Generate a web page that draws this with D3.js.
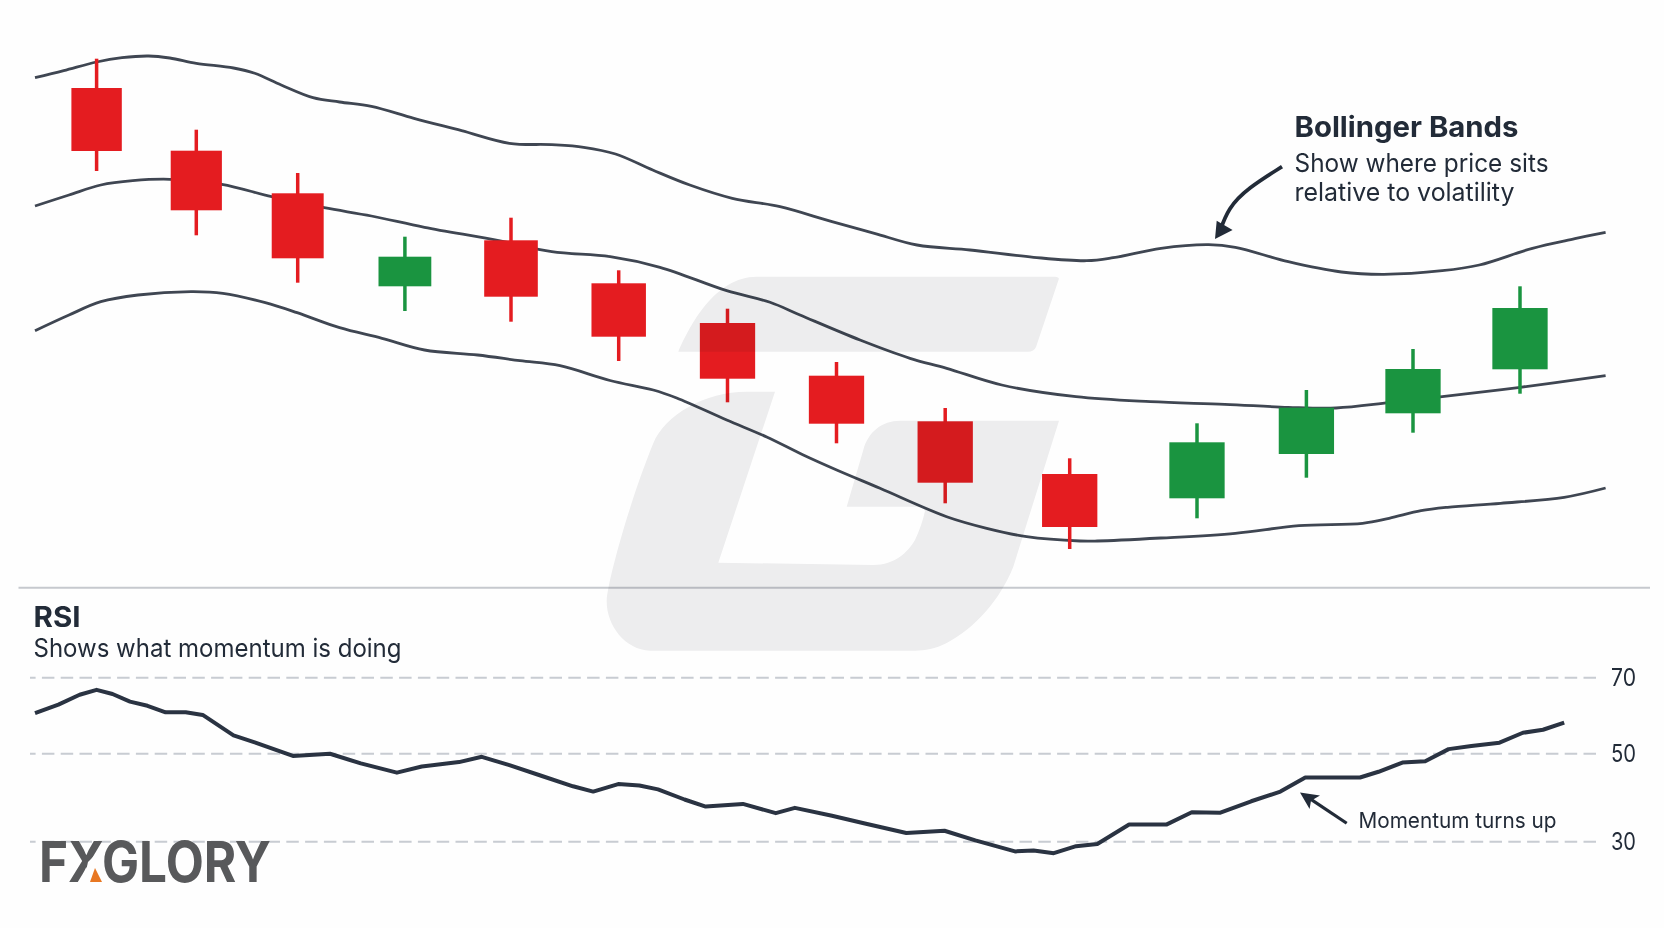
<!DOCTYPE html>
<html><head><meta charset="utf-8">
<script src="https://cdnjs.cloudflare.com/ajax/libs/d3/7.9.0/d3.min.js"></script>
<style>html,body{margin:0;padding:0;background:#fefefe}svg{display:block}text{font-family:Inter,"Noto Sans",sans-serif}</style>
</head><body><div id="chart"></div>
<script>
// time is a chart-wide session clock, price an arbitrary price unit
const candleTime=[96.6,196.3,297.7,404.9,511,618.7,727.5,836.5,945.2,1069.7,1197,1306.4,1413,1520];
const candleOpen=[512,449.3,406.7,313.7,359.7,316.7,277,224.3,178.7,126,101.7,146,186.7,230.7];
const candleClose=[449,389.7,341.7,343.3,303.3,263.3,221.3,176.3,117.3,73,157.7,192.3,231,292];
const candleHigh=[541.3,470.3,427,363.3,382.3,329.7,291.3,238,192,141.7,176.7,210,251,313.7];
const candleLow=[429,364.7,317.3,289,278.3,239,197.7,156.7,96.7,51,81.7,122.3,167.3,206.3];

const upperTime=[35,63.7,96.6,122,148.6,169.8,196.3,233.5,254.7,281.2,313,339.6,371.4,413.9,461.6,509.4,551.8,583.7,615.5,652.7,689.8,732.3,780,832,874.4,917,970,1033.6,1086.7,1113.2,1161,1208.7,1235.3,1288.3,1341.4,1383.8,1442.2,1479.3,1532.4,1574.9,1605.6];
const upperBand=[522.3,529.3,538,542.3,544,542,536.7,532,526.7,515,502.3,498,493.7,481.7,469.3,456.7,455.3,452.7,446,430,415,401.7,393.3,378.3,366.7,355,350,342.7,339.3,342.3,351.7,355.3,352.7,338.3,328,325.7,329.3,335,351.7,361.3,367.7];
const middleTime=[35,69,100.8,132.7,169.8,221.8,271.7,324.2,371.4,424.5,498.8,551.8,610.2,660,726.7,770,800,860,910,946.7,1001.8,1076,1150.4,1224.7,1288.3,1336,1389,1442.2,1520.2,1605.6];
const middleBand=[394,405,415,419.3,420.7,415.7,403.3,392.3,384,372.7,359.3,348.3,343.3,332.7,309.3,297.7,285,260,241.7,231.7,215,203.3,198.3,195.7,192.7,192,197.3,203.3,212.7,224.3];
const lowerTime=[35,69,100.8,138,191,222.9,265.3,297.1,339.6,382,424.5,477.6,520,560,610,653.3,676.7,726.7,766.7,803.3,836.7,880,946.7,986.7,1026.7,1080,1097.3,1161,1235.3,1299,1362.6,1389.1,1421,1447.5,1500.6,1564.2,1605.6];
const lowerBand=[269.3,285,298.3,305,308.3,306.7,297.3,287.3,272.3,261.7,250,245,239.3,234.3,219.5,210,202,180,163,145,130,111.7,83.3,71.7,63.3,59,59,62,66.7,74.3,76.7,81.7,89.3,92.7,96.7,102.7,112];

const rsiTime=[35,58.4,79.6,96.6,112.5,130,147.5,165.6,185.7,202.7,233.5,254.7,275.9,292.9,330,360.8,396.9,421.8,459,481.8,509.4,541.2,573,593.2,618.2,639.4,658,684.5,705.7,742.9,775.8,794.9,832,863.8,906.3,944.5,975.3,1015,1033.6,1053.8,1076.1,1097.3,1129.1,1166.3,1191.8,1220.4,1251.2,1280.4,1305.3,1360,1378.5,1402.4,1425.2,1448.6,1471.4,1499.5,1522.9,1543,1564.2];
const rsiValue=[60.6,62.8,65.4,66.7,65.6,63.6,62.5,60.8,60.8,60.1,54.7,52.9,50.9,49.4,49.9,47.7,45.6,47,48,49.2,47.3,44.9,42.5,41.3,43,42.7,41.8,39.5,37.9,38.5,36.4,37.6,35.8,34.1,31.9,32.4,30.2,27.7,27.9,27.3,28.9,29.4,33.8,33.8,36.6,36.5,39.1,41.3,44.5,44.5,45.8,47.9,48.2,51.1,51.9,52.8,55.4,56.2,58.1];
const rsiTicks=[70,50,30];

const W=1664,H=928,BG="#fefefe",INK="#222b38",LINE="#3f4652",RED="#e41c20",GREEN="#1a9440";
const svg=d3.select("#chart").append("svg").attr("width",W).attr("height",H).attr("viewBox",[0,0,W,H]);
svg.append("rect").attr("width",W).attr("height",H).attr("fill",BG);

const x=d3.scaleLinear().domain([0,1664]).range([0,1664]);
const y=d3.scaleLinear().domain([0,600]).range([600,0]);
const yRsi=d3.scaleLinear().domain([30,50,70]).range([841.3,753.3,677.3]);
const bodyW=d3.scaleLinear().domain([96.6,727.5]).range([50.4,55.3]).clamp(true);

// bands
const band=d3.line().x(d=>x(d[0])).y(d=>y(d[1])).curve(d3.curveCatmullRom.alpha(.5));
[[upperTime,upperBand],[middleTime,middleBand],[lowerTime,lowerBand]].forEach(([t,v])=>{
  svg.append("path").attr("d",band(d3.zip(t,v))).attr("fill","none").attr("stroke",LINE).attr("stroke-width",2.8);
});

// candles
const candles=d3.range(candleTime.length).map(i=>({t:candleTime[i],o:candleOpen[i],c:candleClose[i],h:candleHigh[i],l:candleLow[i]}));
const cg=svg.append("g").selectAll("g").data(candles).join("g").attr("fill",d=>d.c<d.o?RED:GREEN).attr("stroke",d=>d.c<d.o?RED:GREEN);
cg.append("line").attr("x1",d=>x(d.t)).attr("x2",d=>x(d.t)).attr("y1",d=>y(d.h)).attr("y2",d=>y(d.l)).attr("stroke-width",3.5);
cg.append("rect").attr("stroke","none").attr("x",d=>x(d.t)-bodyW(d.t)/2).attr("width",d=>bodyW(d.t))
  .attr("y",d=>y(Math.max(d.o,d.c))).attr("height",d=>y(Math.min(d.o,d.c))-y(Math.max(d.o,d.c)));

// divider
svg.append("line").attr("x1",18.5).attr("x2",1650).attr("y1",587.7).attr("y2",587.7).attr("stroke","#c6c9ce").attr("stroke-width",2);

// RSI guides + labels
const axis=d3.axisRight(yRsi).tickValues(rsiTicks).tickSizeInner(-1566).tickSizeOuter(0).tickPadding(15);
const ag=svg.append("g").attr("transform","translate(1596,0)").call(axis);
ag.select(".domain").remove();
ag.selectAll("line").attr("stroke","#c8ccd2").attr("stroke-width",2).attr("stroke-dasharray","12.5 6.3");
ag.selectAll("text").attr("fill",INK).attr("dy","0.34em").style("font-size","24px").style("font-family","Inter,'Noto Sans',sans-serif").attr("textLength",25).attr("lengthAdjust","spacingAndGlyphs");

// RSI line
const rsiLine=d3.line().x(d=>x(d[0])).y(d=>yRsi(d[1]));
svg.append("path").attr("d",rsiLine(d3.zip(rsiTime,rsiValue))).attr("fill","none").attr("stroke","#2a3342").attr("stroke-width",4).attr("stroke-linejoin","round");

// texts
function label(s,px,py,size,weight,len){
  svg.append("text").text(s).attr("x",px).attr("y",py).attr("fill",INK).style("font-size",size+"px").style("font-weight",weight)
    .attr("textLength",len).attr("lengthAdjust","spacingAndGlyphs");
}
label("Bollinger Bands",1294.5,137,29,700,224);
label("Show where price sits",1294.5,171.7,25.5,400,254);
label("relative to volatility",1294.5,201,25.5,400,220);
label("RSI",33.5,626.7,28,700,47);
label("Shows what momentum is doing",33.5,656.7,25.5,400,368);
label("Momentum turns up",1358.5,827.5,22,400,198);

// annotation arrows
const arrowLine=d3.line().x(d=>x(d[0])).y(d=>y(d[1])).curve(d3.curveBasis);
const bbShaft=[[1282,433.3],[1248,412],[1228,392],[1219,366]];
const bbHead=[[1215,361],[1216.7,379.3],[1224,375],[1232.6,370]];
svg.append("path").attr("d",arrowLine(bbShaft)).attr("fill","none").attr("stroke",INK).attr("stroke-width",3.8);
svg.append("path").attr("d",d3.line().x(d=>x(d[0])).y(d=>y(d[1]))(bbHead)).attr("fill",INK);
const mShaft=[[1346.7,34.1],[1308,40]];
const mHead=[[1300,41.1],[1309.6,37.35],[1311,39.2],[1320,40.4]];
const rsiPath=d3.line().x(d=>x(d[0])).y(d=>yRsi(d[1]));
svg.append("path").attr("d",rsiPath(mShaft)).attr("fill","none").attr("stroke",INK).attr("stroke-width",3.2);
svg.append("path").attr("d",rsiPath(mHead)).attr("fill",INK);

// logo
svg.append("text").text("FXGLORY").attr("x",39).attr("y",881.7).attr("fill","#58595b")
  .style("font-size","56px").style("font-weight",700).attr("textLength",232).attr("lengthAdjust","spacingAndGlyphs");
svg.append("path").attr("d","M88,862L83,884L107,884L94,856Z").attr("fill",BG);
svg.append("path").attr("d","M95,868L90,882L102,882Z").attr("fill","#e87722");

// watermark, multiplied over everything
const wm=svg.append("g").style("mix-blend-mode","multiply").attr("fill","#eeeeef");
wm.append("path").attr("d","M678.3,351.7C690,325 715,277 756.7,276.7L1055,276.7Q1060,277 1058.5,280L1036,347Q1034,351.7 1028,351.7Z");
wm.append("path").attr("d","M775,391.7L718.3,562.7L873.3,565C895,565 908,552 915,540Q922,525 925,511L923,506.7L846.7,506.7L863.3,450C868,432 882,420.7 900,420.7L1059,420.7L1013.3,566.7C1000,600 975,628 946.7,643C935,649 925,650.7 915,650.7L650,650.7C625,650 606,625 606.7,600C608,580 630,500 653.3,443.3C665,415 705,391.7 746.7,391.7Z");
</script></body></html>
